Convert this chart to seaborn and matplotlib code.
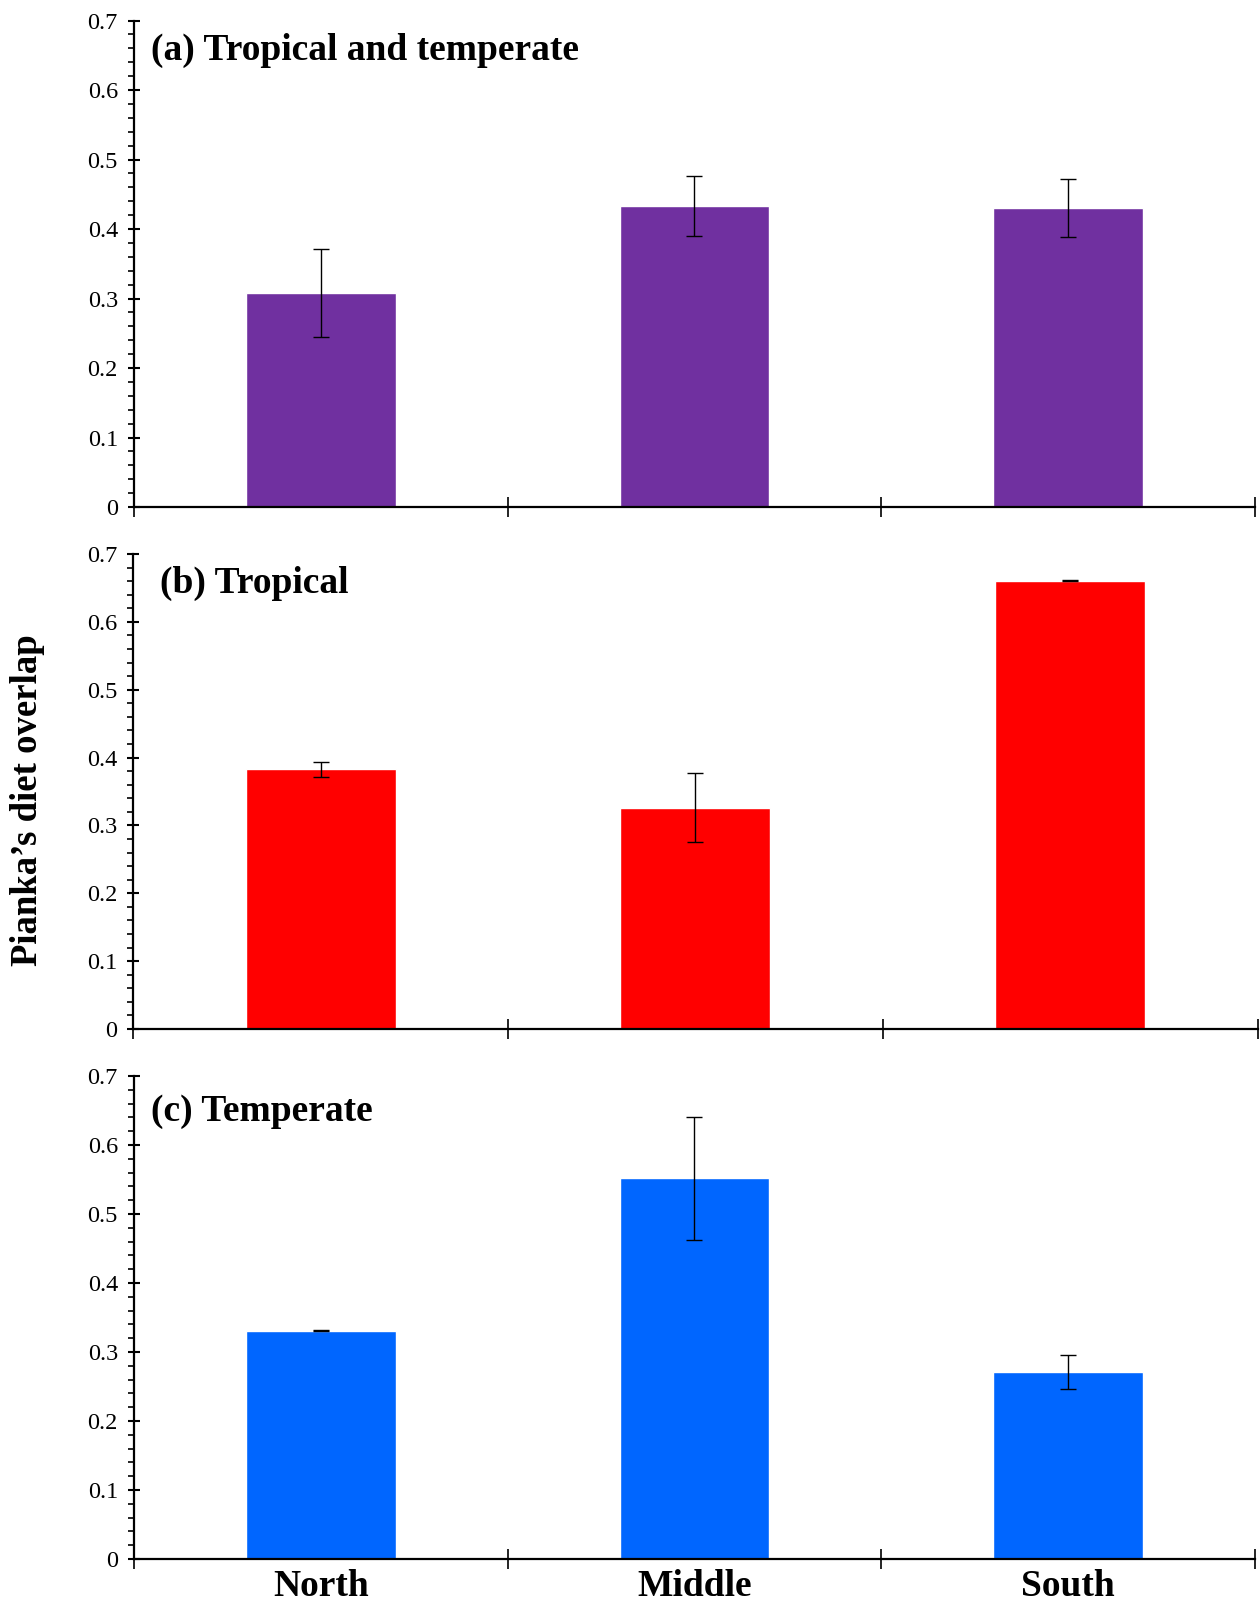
import numpy as np
import pandas as pd
import matplotlib
matplotlib.use("Agg")
import matplotlib.pyplot as plt
from matplotlib.ticker import MultipleLocator, FixedLocator, NullFormatter
import seaborn as sns

# data
regions = ["North", "Middle", "South"]
panel_titles = ["(a) Tropical and temperate", "(b) Tropical", "(c) Temperate"]
overlap_all = [0.308, 0.433, 0.430]
err_all = [0.063, 0.043, 0.042]
overlap_tropical = [0.383, 0.326, 0.661]
err_tropical = [0.011, 0.051, 0.001]
overlap_temperate = [0.331, 0.552, 0.271]
err_temperate = [0.001, 0.089, 0.025]
bar_colors = ["#7030A0", "#FF0000", "#0066FF"]

sns.set_style("white")
plt.rcParams["font.family"] = ["Liberation Serif", "DejaVu Serif"]
plt.rcParams["text.color"] = "black"
plt.rcParams["xtick.color"] = "black"
plt.rcParams["ytick.color"] = "black"
plt.rcParams["axes.labelcolor"] = "black"

fig = plt.figure(figsize=(12.6, 16.05), dpi=100)

# axes boxes [left, bottom, width, height] in figure fraction
boxes = [
    [0.1063, 0.6841, 0.8897, 0.3031],
    [0.1056, 0.3589, 0.8927, 0.2959],
    [0.1063, 0.0287, 0.8897, 0.3009],
]
title_pos = [(0.120, 0.9688), (0.1268, 0.6365), (0.1202, 0.3074)]
series = [
    (overlap_all, err_all),
    (overlap_tropical, err_tropical),
    (overlap_temperate, err_temperate),
]

for i, (box, (vals, errs)) in enumerate(zip(boxes, series)):
    ax = fig.add_axes(box)
    df = pd.DataFrame({"region": regions, "overlap": vals})
    sns.barplot(data=df, x="region", y="overlap", color=bar_colors[i],
                width=0.4, saturation=1, errorbar=None, ax=ax)
    ax.errorbar(np.arange(len(regions)), vals, yerr=errs, fmt="none",
                ecolor="black", elinewidth=1.0, capsize=6, capthick=1.0)

    ax.set_xlim(-0.5, 2.5)
    ax.set_ylim(0, 0.7)
    ax.set_xlabel("")
    ax.set_ylabel("")

    for side in ["top", "right"]:
        ax.spines[side].set_visible(False)
    for side in ["left", "bottom"]:
        ax.spines[side].set_linewidth(1.6)
        ax.spines[side].set_color("black")

    # y axis: majors every 0.1, minors every 0.02
    ax.yaxis.set_major_locator(MultipleLocator(0.1))
    ax.yaxis.set_minor_locator(MultipleLocator(0.02))
    yt = np.round(np.arange(0, 0.71, 0.1), 1)
    ax.set_yticks(yt)
    ax.set_yticklabels(["0" if v == 0 else f"{v:.1f}" for v in yt])
    ax.tick_params(axis="y", which="major", direction="inout", length=9,
                   width=1.5, labelsize=17.5, pad=7, left=True)
    ax.tick_params(axis="y", which="minor", direction="out", length=4,
                   width=1.2, left=True)

    # x axis: ticks at category boundaries, labels at category centres
    ax.xaxis.set_major_locator(FixedLocator([-0.5, 0.5, 1.5, 2.5]))
    ax.xaxis.set_major_formatter(NullFormatter())
    ax.xaxis.set_minor_locator(FixedLocator([0, 1, 2]))
    ax.tick_params(axis="x", which="major", direction="inout", length=14,
                   width=1.2, bottom=True)
    if i == 2:
        ax.set_xticklabels(regions, minor=True, fontsize=27, fontweight="bold")
        ax.tick_params(axis="x", which="minor", length=0, pad=7, bottom=True)
    else:
        ax.xaxis.set_minor_formatter(NullFormatter())
        ax.tick_params(axis="x", which="minor", length=0)

    fig.text(title_pos[i][0], title_pos[i][1], panel_titles[i],
             fontsize=27, fontweight="bold", va="center", ha="left")

fig.text(0.022, 0.5016, "Pianka\u2019s diet overlap", rotation=90,
         fontsize=26.5, fontweight="bold", va="center", ha="center")

fig.savefig("out.png", dpi=100)
